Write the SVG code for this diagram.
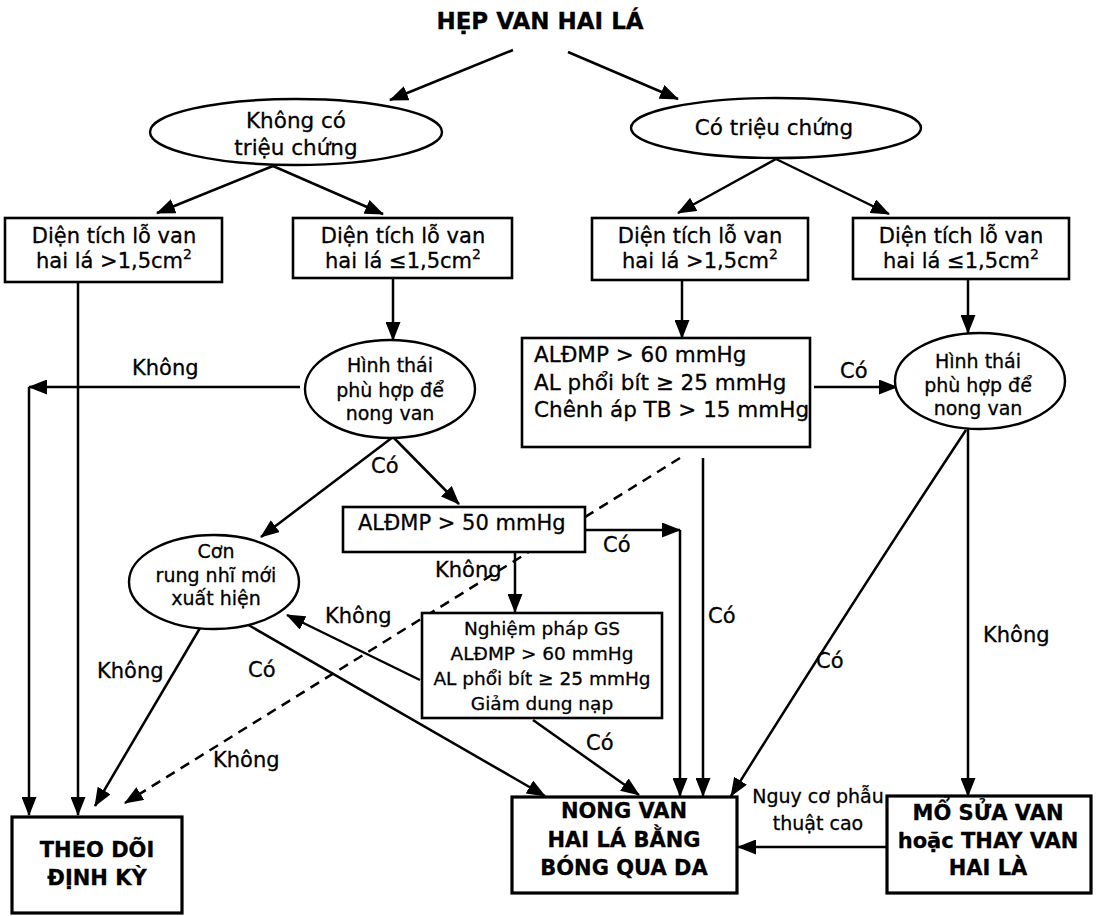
<svg xmlns="http://www.w3.org/2000/svg" width="1096" height="916" viewBox="0 0 1096 916">
<defs>
<marker id="ah" markerUnits="userSpaceOnUse" markerWidth="19" markerHeight="15" refX="18" refY="7.5" orient="auto">
<path d="M0,0 L19,7.5 L0,15 z" fill="#000"/>
</marker>
<style>
text{font-family:"DejaVu Sans","Liberation Sans",Arial,sans-serif;fill:#000;stroke:#000;stroke-width:0.3}
.t22{font-size:21.5px}
.t21{font-size:21px}
.t19{font-size:19px}
.t18{font-size:18.5px}
.b{font-weight:bold;font-size:21px}
.c{text-anchor:middle}
.box{fill:#fff;stroke:#000;stroke-width:2.6}
.bbox{fill:#fff;stroke:#000;stroke-width:3.2}
.ell{fill:#fff;stroke:#000;stroke-width:2.4}
.ln{fill:none;stroke:#000;stroke-width:2.5;marker-end:url(#ah)}
.dash{fill:none;stroke:#000;stroke-width:2.5;stroke-dasharray:10 7;marker-end:url(#ah)}
</style>
</defs>
<rect width="1096" height="916" fill="#fff"/>

<g id="connectors">
<line class="ln" x1="513" y1="50" x2="390" y2="100"/>
<line class="ln" x1="568" y1="52" x2="678" y2="99"/>
<line class="ln" x1="273" y1="166" x2="157" y2="213"/>
<line class="ln" x1="273" y1="166" x2="383" y2="214"/>
<line class="ln" x1="776" y1="159" x2="678" y2="213"/>
<line class="ln" x1="776" y1="159" x2="889" y2="214"/>
<line class="ln" x1="78" y1="282" x2="78" y2="815"/>
<line class="ln" x1="393" y1="278" x2="393" y2="340"/>
<line class="ln" x1="300" y1="387" x2="29" y2="387"/>
<line class="ln" x1="29" y1="387" x2="29" y2="815"/>
<line class="ln" x1="393" y1="437" x2="261" y2="537"/>
<line class="ln" x1="393" y1="437" x2="459" y2="504"/>
<line class="ln" x1="585" y1="530" x2="680" y2="530"/>
<line class="ln" x1="680" y1="530" x2="680" y2="796"/>
<line class="ln" x1="515" y1="552" x2="515" y2="612"/>
<line class="ln" x1="420" y1="680" x2="287" y2="615"/>
<line class="ln" x1="533" y1="720" x2="639" y2="795"/>
<line class="ln" x1="200" y1="628" x2="95" y2="806"/>
<line class="ln" x1="245" y1="623" x2="545" y2="796"/>
<line class="dash" x1="680" y1="458" x2="125" y2="803"/>
<line class="ln" x1="682" y1="280" x2="682" y2="338"/>
<line class="ln" x1="703" y1="458" x2="703" y2="796"/>
<line class="ln" x1="814" y1="387" x2="897" y2="387"/>
<line class="ln" x1="968" y1="279" x2="968" y2="333"/>
<path class="ln" d="M966,430 Q860,590 731,796"/>
<line class="ln" x1="968" y1="429" x2="968" y2="796"/>
<line class="ln" x1="887" y1="847" x2="738" y2="847"/>
</g>

<g id="labels">
<text class="t21" x="132" y="375">Không</text>
<text class="t21" x="371" y="473">Có</text>
<text class="t21" x="603" y="552">Có</text>
<text class="t21" x="435" y="577">Không</text>
<text class="t21" x="325" y="623">Không</text>
<text class="t21" x="97" y="678">Không</text>
<text class="t21" x="248" y="677">Có</text>
<text class="t21" x="213" y="767">Không</text>
<text class="t21" x="586" y="750">Có</text>
<text class="t21" x="708" y="623">Có</text>
<text class="t21" x="816" y="668">Có</text>
<text class="t21" x="983" y="642">Không</text>
<text class="t21" x="840" y="378">Có</text>
<text class="t19 c" x="818" y="803">Nguy cơ phẫu</text>
<text class="t19 c" x="818" y="830">thuật cao</text>
</g>

<g id="title">
<text x="540" y="29" class="c" style="font-weight:bold;font-size:23px">HẸP VAN HAI LÁ</text>
</g>

<g id="n-khong-trieu-chung">
<ellipse class="ell" cx="296" cy="132" rx="146" ry="33"/>
<text class="t22 c" x="296" y="128">Không có</text>
<text class="t22 c" x="296" y="155">triệu chứng</text>
</g>

<g id="n-co-trieu-chung">
<ellipse class="ell" cx="776" cy="128" rx="145" ry="30"/>
<text class="t22 c" x="774" y="135">Có triệu chứng</text>
</g>

<g id="n-box1">
<rect class="box" x="5" y="218" width="217" height="64"/>
<text class="t21 c" x="114" y="243">Diện tích lỗ van</text>
<text class="t21 c" x="114" y="268">hai lá &gt;1,5cm<tspan dy="-9" font-size="14">2</tspan></text>
</g>

<g id="n-box2">
<rect class="box" x="293" y="218" width="219" height="60"/>
<text class="t21 c" x="403" y="243">Diện tích lỗ van</text>
<text class="t21 c" x="403" y="268">hai lá ≤1,5cm<tspan dy="-9" font-size="14">2</tspan></text>
</g>

<g id="n-box3">
<rect class="box" x="592" y="218" width="216" height="62"/>
<text class="t21 c" x="700" y="243">Diện tích lỗ van</text>
<text class="t21 c" x="700" y="268">hai lá &gt;1,5cm<tspan dy="-9" font-size="14">2</tspan></text>
</g>

<g id="n-box4">
<rect class="box" x="853" y="218" width="216" height="61"/>
<text class="t21 c" x="961" y="243">Diện tích lỗ van</text>
<text class="t21 c" x="961" y="268">hai lá ≤1,5cm<tspan dy="-9" font-size="14">2</tspan></text>
</g>

<g id="n-hinhthai-left">
<ellipse class="ell" cx="390" cy="389" rx="85" ry="49"/>
<text class="t19 c" x="390" y="372">Hình thái</text>
<text class="t19 c" x="390" y="397">phù hợp để</text>
<text class="t19 c" x="390" y="420">nong van</text>
</g>

<g id="n-aldmp60">
<rect class="box" x="522" y="338" width="288" height="109"/>
<text class="t22" x="534" y="362">ALĐMP &gt; 60 mmHg</text>
<text class="t22" x="534" y="390">AL phổi bít ≥ 25 mmHg</text>
<text class="t22" x="534" y="417">Chênh áp TB &gt; 15 mmHg</text>
</g>

<g id="n-hinhthai-right">
<ellipse class="ell" cx="980" cy="381" rx="85" ry="48"/>
<text class="t19 c" x="978" y="368">Hình thái</text>
<text class="t19 c" x="978" y="392">phù hợp để</text>
<text class="t19 c" x="978" y="415">nong van</text>
</g>

<g id="n-aldmp50">
<rect class="box" x="343" y="507" width="242" height="45"/>
<text class="t21" x="358" y="530">ALĐMP &gt; 50 mmHg</text>
</g>

<g id="n-con-rung-nhi">
<ellipse class="ell" cx="214" cy="582" rx="85" ry="47"/>
<text class="t19 c" x="216" y="558">Cơn</text>
<text class="t19 c" x="216" y="582">rung nhĩ mới</text>
<text class="t19 c" x="216" y="605">xuất hiện</text>
</g>

<g id="n-nghiem-phap">
<rect class="box" x="422" y="613" width="240" height="105"/>
<text class="t18 c" x="542" y="635">Nghiệm pháp GS</text>
<text class="t18 c" x="542" y="660">ALĐMP &gt; 60 mmHg</text>
<text class="t18 c" x="542" y="685">AL phổi bít ≥ 25 mmHg</text>
<text class="t18 c" x="542" y="710">Giảm dung nạp</text>
</g>

<g id="n-theo-doi">
<rect class="bbox" x="12" y="817" width="170" height="96"/>
<text class="b c" x="97" y="857">THEO DÕI</text>
<text class="b c" x="97" y="885">ĐỊNH KỲ</text>
</g>

<g id="n-nong-van">
<rect class="bbox" x="512" y="797" width="225" height="96"/>
<text class="b c" x="624" y="818">NONG VAN</text>
<text class="b c" x="624" y="847">HAI LÁ BẰNG</text>
<text class="b c" x="624" y="875">BÓNG QUA DA</text>
</g>

<g id="n-mo-sua-van">
<rect class="bbox" x="887" y="796" width="204" height="97"/>
<text class="b c" x="988" y="820">MỔ SỬA VAN</text>
<text class="b c" x="988" y="848">hoặc THAY VAN</text>
<text class="b c" x="988" y="875">HAI LÀ</text>
</g>
</svg>
